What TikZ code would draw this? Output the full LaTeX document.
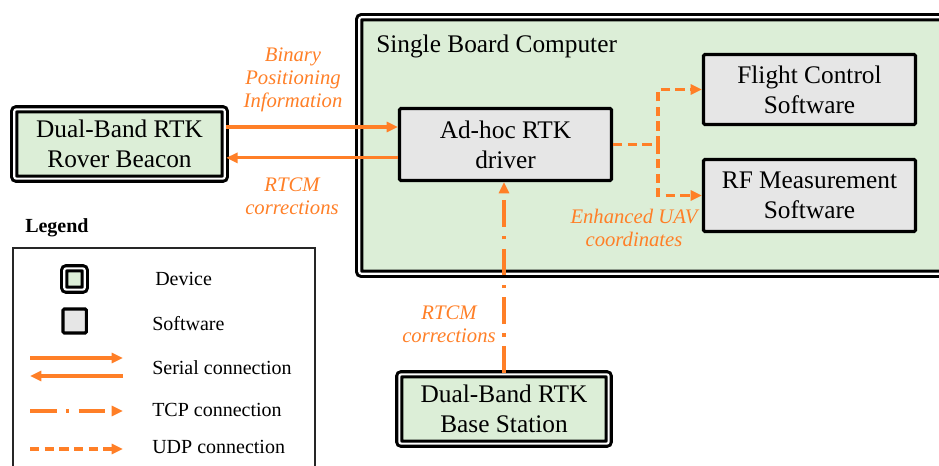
\documentclass[tikz,border=0pt]{standalone}
\usepackage{fontspec}
\setmainfont{Liberation Serif}
\usetikzlibrary{arrows.meta}
\definecolor{linkorange}{RGB}{255,127,39}
\definecolor{devgreen}{RGB}{220,238,215}
\definecolor{swgray}{RGB}{230,230,230}

\begin{document}
\begin{tikzpicture}[x=0.75pt,y=0.75pt,yscale=-1,xscale=1,
  deviceframe/.style={draw=black,line width=2.3pt,double=white,double distance=1.6pt,fill=devgreen,rounded corners=1.5pt},
  device/.style={deviceframe,align=center,inner sep=0pt,font=\fontsize{19}{22.5}\selectfont},
  software/.style={draw=black,line width=2.3pt,fill=swgray,rounded corners=1pt,align=center,inner sep=0pt,font=\fontsize{19}{22.5}\selectfont},
  link/.style={draw=linkorange,line width=2.4pt},
  serial/.style={link,-{Triangle[length=8.5pt,width=7.5pt]}},
  tcp/.style={link,dash pattern=on 20pt off 7pt on 2.5pt off 7pt,-{Triangle[length=8.5pt,width=7.5pt]}},
  udp/.style={link,dash pattern=on 7pt off 4pt,-{Triangle[length=8.5pt,width=7.5pt]}},
  note/.style={text=linkorange,align=center,inner sep=0pt,font=\fontsize{15.5}{17.5}\selectfont\itshape},
  legtext/.style={anchor=base west,inner sep=0pt,font=\fontsize{15}{18}\selectfont}
]
\useasboundingbox (0,0) rectangle (939,466);
\clip (0,0) rectangle (939,466);

%Shape: Single Board Computer frame
\draw [deviceframe] (359.3,17.3) rectangle (960,273.7) ;
% Text Node
\node [anchor=base west,inner sep=0pt,font=\fontsize{19}{22.5}\selectfont] (sbc) at (376,53) {Single Board Computer};

%Devices
\node [device,minimum width=157.8pt,minimum height=52pt] (rover) at (119.5,144) {Dual-Band RTK\\Rover Beacon};
\node [device,minimum width=157pt,minimum height=52pt] (base) at (504,409) {Dual-Band RTK\\Base Station};

%Software
\node [software,minimum width=159pt,minimum height=54pt] (driver) at (505.5,144.5) {Ad-hoc RTK\\driver};
\node [software,minimum width=159pt,minimum height=52.5pt] (flight) at (809.5,89.5) {Flight Control\\Software};
\node [software,minimum width=159pt,minimum height=54pt] (rf) at (809.5,195.5) {RF Measurement\\Software};

%Serial Lines
\draw [serial] ([yshift=-12.75pt]rover.east) -- ([yshift=-12.75pt]rover.east -| driver.west) ;
\draw [serial] ([yshift=10pt]driver.west) -- ([yshift=10pt]driver.west -| rover.east) ;
%TCP Line
\draw [tcp] (base.north) -- (base.north |- driver.south) ;
%UDP Lines
\coordinate (split) at (658,144.5);
\draw [udp] (driver.east) -- (split) |- (flight.west) ;
\draw [udp] (split) |- (rf.west) ;

% Text Node
\node [note] (binlbl) at (293,80) {Binary\\Positioning\\Information};
% Text Node
\node [note] (rtcmlbl) at (292,196) {RTCM\\corrections};
% Text Node
\node [note] (tcplbl) at (449,324) {RTCM\\corrections};
% Text Node
\node [note] (uavlbl) at (634,228) {Enhanced UAV\\coordinates};

%Legend
\node [anchor=base west,inner sep=0pt,font=\fontsize{15}{18}\selectfont\bfseries] (legtitle) at (25,232.7) {Legend};
\draw [line width=0.8pt,draw=black!85] (13,248) rectangle (315,490) ;
\node [deviceframe,inner sep=0pt,minimum width=15.3pt,minimum height=16pt] (legdev) at (74.5,279) {};
\node [software,minimum width=17.6pt,minimum height=18pt] (legsw) at (74.7,321) {};
\coordinate (sera) at (30,358);
\coordinate (serb) at (123,358);
\coordinate (serc) at (123,376);
\coordinate (serd) at (30,376);
\coordinate (tcpa) at (30,411);
\coordinate (tcpb) at (123,411);
\coordinate (udpa) at (30,449);
\coordinate (udpb) at (123,449);
\draw [serial] (sera) -- (serb) ;
\draw [serial] (serc) -- (serd) ;
\draw [tcp] (tcpa) -- (tcpb) ;
\draw [udp] (udpa) -- (udpb) ;
\node [legtext] (legdevtxt) at (155,286) {Device};
\node [legtext] (legswtxt) at (152,330.7) {Software};
\node [legtext] (legsertxt) at (152,375) {Serial connection};
\node [legtext] (legtcptxt) at (152,417) {TCP connection};
\node [legtext] (legudptxt) at (152,454) {UDP connection};
\end{tikzpicture}
\end{document}
